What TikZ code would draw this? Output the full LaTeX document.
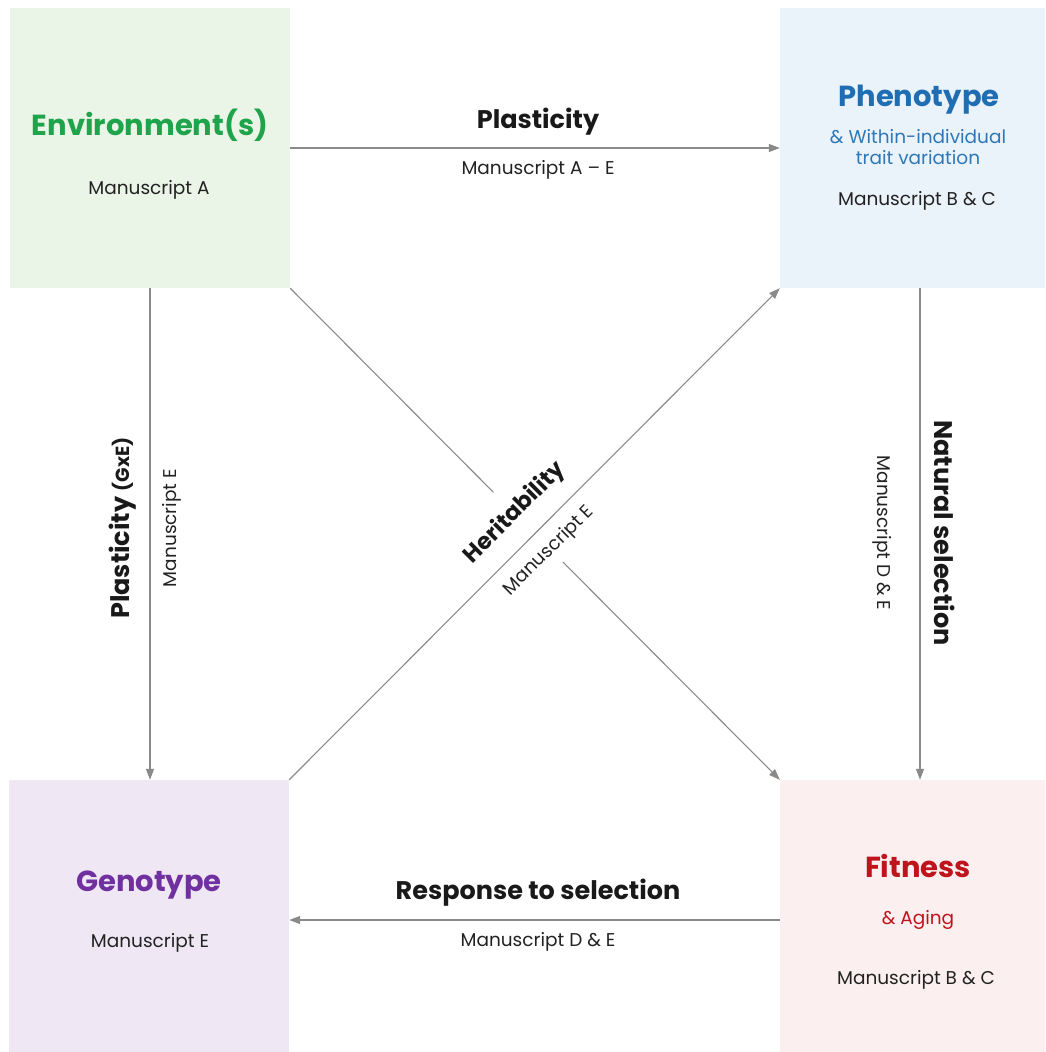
\documentclass[tikz,border=0pt]{standalone}
\usepackage{fontspec}
\setmainfont{Poppins}
\usepackage{tikz}
\usetikzlibrary{arrows.meta,calc,positioning}
\definecolor{envfill}{HTML}{EBF5E7}
\definecolor{phenofill}{HTML}{EAF2FA}
\definecolor{genofill}{HTML}{EFE7F4}
\definecolor{fitfill}{HTML}{FCEFEF}
\definecolor{envgreen}{HTML}{1FA34B}
\definecolor{phenoblue}{HTML}{1F6DB3}
\definecolor{phenosub}{HTML}{2E78B8}
\definecolor{genopurple}{HTML}{7030A0}
\definecolor{fitred}{HTML}{C0141C}
\definecolor{linkgray}{HTML}{8A8A8A}
\definecolor{msgray}{HTML}{222222}
\tikzset{%
  box/.style={
    rectangle,
    inner sep=0pt,
    minimum size=280pt
  },
  title/.style={font=\fontsize{29}{32}\selectfont\bfseries},
  sub/.style={font=\fontsize{18.5}{21}\selectfont, align=center},
  ms/.style={font=\fontsize{18.5}{21}\selectfont, text=msgray, inner sep=1pt},
  link/.style={draw=linkgray, line width=1.1pt},
  linklabel/.style={font=\fontsize{25.5}{28}\selectfont\bfseries, text=black!90, inner sep=1pt},
}
\begin{document}
\begin{tikzpicture}[x=1pt, y=-1pt, >={Triangle[length=11pt,width=8pt]}]
\useasboundingbox (0,0) rectangle (1045,1052);
\clip (0,0) rectangle (1045,1052);
% the four boxes
\node[box, fill=envfill] (env) at (150,148) {};
\node[box, fill=phenofill] (pheno) at (920,148) {};
\node[box, fill=genofill] (geno) at (149,920) {};
\node[box, fill=fitfill] (fit) at (920,920) {};
% box texts
\node[title, text=envgreen] (envtitle) at (150,125) {Environment(s)};
\node[ms] (envms) at (149,190) {Manuscript A};
\node[title, text=phenoblue] (phenotitle) at (919,100) {Phenotype};
\node[sub, text=phenosub] (phenosubtxt) at (918,147) {\& Within-individual\\trait variation};
\node[ms] (phenoms) at (917,201) {Manuscript B \& C};
\node[title, text=genopurple] (genotitle) at (149,885) {Genotype};
\node[ms] (genoms) at (150,943) {Manuscript E};
\node[title, text=fitred] (fittitle) at (918,866) {Fitness};
\node[sub, text=fitred] (fitsubtxt) at (918,920) {\& Aging};
\node[ms] (fitms) at (916,980) {Manuscript B \& C};
% connectors
\draw[link,->] (env.east) -- (pheno.west);
\draw[link,->] (env.south) -- (env.south |- geno.north);
\draw[link,->] (pheno.south) -- (fit.north);
\draw[link,->] (fit.west) -- (geno.east);
\draw[link,->] (geno.north east) -- (pheno.south west);
\draw[link] (env.south east) -- ($(env.south east)!0.415!(fit.north west)$);
\draw[link,->] ($(env.south east)!0.557!(fit.north west)$) -- (fit.north west);
% connector labels
\node[linklabel] (plastlab) at (538,122) {Plasticity};
\node[ms] (plastms) at (538,170) {Manuscript A – E};
\node[linklabel, rotate=90] (gxelab) at (123,528) {Plasticity {\fontsize{19}{21}\selectfont(GxE)}};
\node[ms, rotate=90] (gxems) at (172,528) {Manuscript E};
\node[linklabel, rotate=-90] (natlab) at (945,533) {Natural selection};
\node[ms, rotate=-90] (natms) at (882,533) {Manuscript D \& E};
\node[linklabel] (resplab) at (538,893) {Response to selection};
\node[ms] (respms) at (538,942) {Manuscript D \& E};
\node[linklabel, font=\fontsize{23}{26}\selectfont\bfseries, rotate=45] (herlab) at (515,513) {Heritability};
\node[ms, rotate=45] (herms) at (549,551) {Manuscript E};
\end{tikzpicture}
\end{document}
